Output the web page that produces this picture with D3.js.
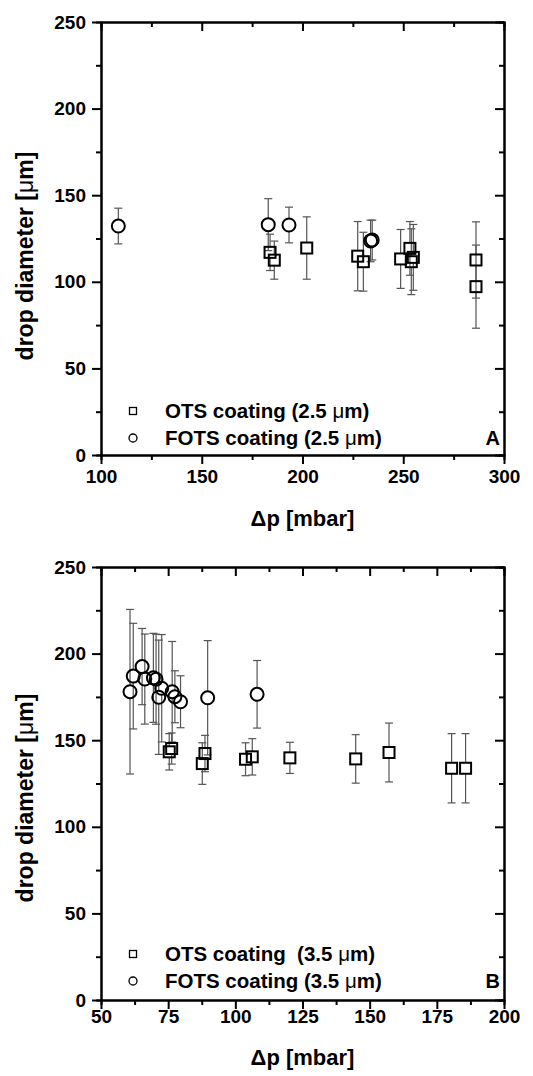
<!DOCTYPE html>
<html>
<head>
<meta charset="utf-8">
<script src="https://cdn.jsdelivr.net/npm/d3@7"></script>
<style>
  body { margin: 0; background: #fff; }
  svg { display: block; font-family: "Liberation Sans", Arial, sans-serif; }
</style>
</head>
<body>
<script>
// panel A : 2.5 um coatings
const otsA_dp  = [183.9, 186, 202.1, 227.4, 230.2, 248.7, 253.3, 255, 254, 286.1, 286.1];
const otsA_d   = [117, 112.5, 119.5, 114.8, 111.6, 113.2, 119.3, 114.1, 111.6, 112.6, 97.2];
const otsA_err = [10.5, 11, 18, 20, 17, 17, 15.5, 19, 19, 22, 24];

const fotsA_dp  = [108.6, 183, 193.3, 233.8, 234.6];
const fotsA_d   = [132.2, 133, 132.8, 123.6, 124.1];
const fotsA_err = [10.3, 15, 10.3, 12, 11.5];

// panel B : 3.5 um coatings
const otsB_dp  = [75.4, 76.3, 87.7, 88.7, 103.8, 106.3, 120.3, 144.8, 157.2, 180.5, 185.7];
const otsB_d   = [143.3, 145.2, 136.5, 142.3, 139, 140.4, 139.8, 139.2, 142.9, 133.8, 133.8];
const otsB_err = [10.5, 9, 12, 10.5, 9.5, 10.5, 9, 14, 17, 20, 20];

const fotsB_dp  = [60.8, 62, 65.3, 66.3, 69.5, 70.5, 71.5, 72.6, 76.5, 77.5, 79.6, 89.7, 108.1];
const fotsB_d   = [178, 187, 192.5, 185.3, 186, 185.2, 174.8, 180, 178, 175.1, 172.2, 174.5, 176.5];
const fotsB_err = [47.5, 30.5, 22, 26, 25.7, 26, 33, 31, 29, 15, 15, 33, 19.5];

const yTicks = [0, 50, 100, 150, 200, 250];
const yMinor = [25, 75, 125, 175, 225];
const xTicksA = [100, 150, 200, 250, 300];
const xMinorA = [125, 175, 225, 275];
const xTicksB = [50, 75, 100, 125, 150, 175, 200];
const xMinorB = [62.5, 87.5, 112.5, 137.5, 162.5, 187.5];

const legendA = ["OTS coating (2.5 ", "FOTS coating (2.5 "];
const legendB = ["OTS coating\u00a0\u00a0(3.5 ", "FOTS coating (3.5 "];

const width = 533, height = 1076;
const svg = d3.select("body").append("svg").attr("width", width).attr("height", height);

const zip = (xs, ys, es) => xs.map((x, i) => ({x, y: ys[i], e: es[i]}));

function panel(cfg) {
  const {top, bottom, left, right} = cfg;
  const x = d3.scaleLinear().domain(cfg.xDomain).range([left, right]);
  const y = d3.scaleLinear().domain([0, 250]).range([bottom, top]);
  const g = svg.append("g");

  const styleAxis = a => a.call(s => s.select(".domain").attr("stroke", "#000").attr("stroke-width", 2))
    .call(s => s.selectAll(".tick line").attr("stroke", "#000").attr("stroke-width", 2))
    .call(s => s.selectAll(".tick text").attr("fill", "#000").attr("font-size", "19px").attr("font-weight", "bold").attr("font-family", "Liberation Sans, Arial, sans-serif"));

  // minor ticks first
  g.append("g").attr("transform", `translate(0,${bottom})`).call(d3.axisBottom(x).tickValues(cfg.xMinor).tickSize(5).tickFormat("")).call(styleAxis);
  g.append("g").attr("transform", `translate(0,${top})`).call(d3.axisBottom(x).tickValues(cfg.xMinor).tickSize(5).tickFormat("")).call(styleAxis);
  g.append("g").attr("transform", `translate(${left},0)`).call(d3.axisLeft(y).tickValues(yMinor).tickSize(5).tickFormat("")).call(styleAxis);
  g.append("g").attr("transform", `translate(${right},0)`).call(d3.axisLeft(y).tickValues(yMinor).tickSize(5).tickFormat("")).call(styleAxis);

  // major ticks, left/bottom outward, top/right inward
  g.append("g").attr("transform", `translate(0,${bottom})`).call(d3.axisBottom(x).tickValues(cfg.xTicks).tickSize(9).tickPadding(cfg.xPad).tickSizeOuter(0)).call(styleAxis);
  g.append("g").attr("transform", `translate(0,${top})`).call(d3.axisBottom(x).tickValues(cfg.xTicks).tickSize(9).tickFormat("").tickSizeOuter(0)).call(styleAxis);
  g.append("g").attr("transform", `translate(${left},0)`).call(d3.axisLeft(y).tickValues(yTicks).tickSize(9).tickPadding(6).tickSizeOuter(0)).call(styleAxis);
  g.append("g").attr("transform", `translate(${right},0)`).call(d3.axisLeft(y).tickValues(yTicks).tickSize(9).tickFormat("").tickSizeOuter(0)).call(styleAxis);

  // error bars, drawn from the symbol edge outward
  const bars = g.append("g").attr("stroke", "#555").attr("stroke-width", 1.2);
  const allPts = [...cfg.ots.map(d => ({...d, r: 5.5})), ...cfg.fots.map(d => ({...d, r: 6.5}))];
  allPts.forEach(d => {
    const cx = x(d.x), cy = y(d.y), yt = y(d.y + d.e), yb = y(d.y - d.e);
    bars.append("line").attr("x1", cx).attr("x2", cx).attr("y1", cy - d.r).attr("y2", yt);
    bars.append("line").attr("x1", cx).attr("x2", cx).attr("y1", cy + d.r).attr("y2", yb);
    bars.append("line").attr("x1", cx - 4).attr("x2", cx + 4).attr("y1", yt).attr("y2", yt);
    bars.append("line").attr("x1", cx - 4).attr("x2", cx + 4).attr("y1", yb).attr("y2", yb);
  });

  g.append("g").selectAll("rect").data(cfg.ots).join("rect")
    .attr("x", d => x(d.x) - 5.5).attr("y", d => y(d.y) - 5.5)
    .attr("width", 11).attr("height", 11)
    .attr("fill", "none").attr("stroke", "#000").attr("stroke-width", 2);

  g.append("g").selectAll("circle").data(cfg.fots).join("circle")
    .attr("cx", d => x(d.x)).attr("cy", d => y(d.y)).attr("r", 6.5)
    .attr("fill", "none").attr("stroke", "#000").attr("stroke-width", 2);

  // legend
  const lx = left + 32;
  g.append("rect").attr("x", lx - 3.5).attr("y", cfg.legY - 3.5).attr("width", 7).attr("height", 7)
    .attr("fill", "none").attr("stroke", "#000").attr("stroke-width", 1.3);
  g.append("circle").attr("cx", lx).attr("cy", cfg.legY + 27).attr("r", 4)
    .attr("fill", "none").attr("stroke", "#000").attr("stroke-width", 1.3);
  cfg.legend.forEach((t, i) => {
    const txt = g.append("text").attr("x", lx + 32).attr("y", cfg.legY + 27 * i + 7)
      .attr("font-size", "20.5px").attr("font-weight", "bold").attr("fill", "#000");
    txt.append("tspan").text(t);
    txt.append("tspan").attr("font-weight", "normal").text("\u03bc");
    txt.append("tspan").text("m)");
  });

  g.append("text").attr("x", right - 4).attr("y", cfg.legY + 34)
    .attr("text-anchor", "end").attr("font-size", "20px").attr("font-weight", "bold").text(cfg.tag);

  // axis titles
  g.append("text").attr("x", (left + right) / 2).attr("y", cfg.xTitleY)
    .attr("text-anchor", "middle").attr("font-size", "22px").attr("font-weight", "bold").text("\u0394p [mbar]");
  const yt = g.append("text").attr("transform", `translate(25,${cfg.yTitleC}) rotate(-90)`)
    .attr("text-anchor", "middle").attr("dy", "0.35em").attr("font-size", "23px").attr("font-weight", "bold");
  yt.append("tspan").text("drop diameter [");
  yt.append("tspan").attr("font-weight", "normal").text("\u03bc");
  yt.append("tspan").text("m]");
}

panel({
  top: 22, bottom: 455, left: 101, right: 504,
  xDomain: [100, 300], xTicks: xTicksA, xMinor: xMinorA, xPad: 6,
  ots: zip(otsA_dp, otsA_d, otsA_err), fots: zip(fotsA_dp, fotsA_d, fotsA_err),
  legend: legendA, legY: 411, tag: "A", xTitleY: 526, yTitleC: 256
});

panel({
  top: 567, bottom: 1000, left: 101, right: 504,
  xDomain: [50, 200], xTicks: xTicksB, xMinor: xMinorB, xPad: 1,
  ots: zip(otsB_dp, otsB_d, otsB_err), fots: zip(fotsB_dp, fotsB_d, fotsB_err),
  legend: legendB, legY: 954, tag: "B", xTitleY: 1065, yTitleC: 798
});
</script>
</body>
</html>
